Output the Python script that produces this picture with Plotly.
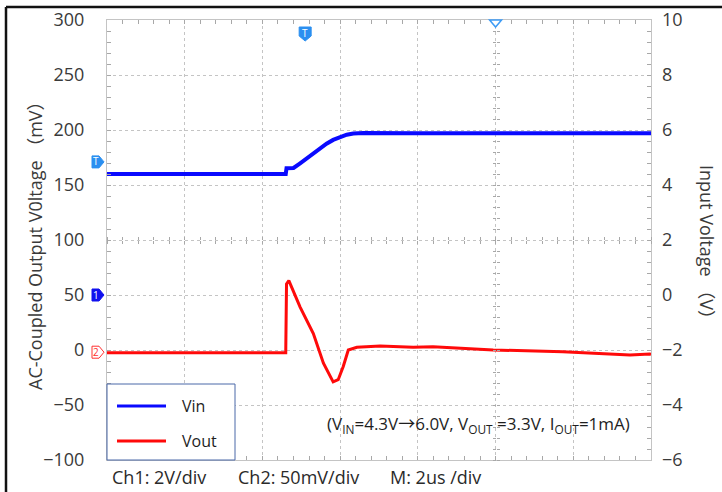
import plotly.graph_objects as go

# ---------------- data ----------------
# time in microseconds (2 us/div, 7 divisions shown)
t_vin = [0.0, 2.0, 4.60, 4.62, 4.80, 4.97, 5.14, 5.31, 5.48, 5.65, 5.82, 6.00, 6.17, 6.34, 6.60, 8.0, 10.0, 12.0, 14.0]
vin = [4.40, 4.40, 4.40, 4.61, 4.62, 4.79, 4.97, 5.15, 5.33, 5.50, 5.64, 5.75, 5.83, 5.87, 5.89, 5.88, 5.87, 5.88, 5.88]

t_vout = [0.0, 2.0, 4.60, 4.62, 4.68, 4.97, 5.31, 5.57, 5.82, 5.95, 6.08, 6.21, 6.43, 7.03, 7.88, 8.39, 9.94, 11.73, 13.46, 13.97, 14.0]
vout = [-2.4, -2.4, -2.4, 60, 63, 39, 15, -12, -29, -27, -15, 0, 2.4, 3.6, 2.4, 3.0, 0.0, -1.5, -4.5, -3.6, -3.8]

series_names = ["Vin", "Vout"]
series_colors = ["#0a0aff", "#ff0a0a"]

left_ticks = [-100, -50, 0, 50, 100, 150, 200, 250, 300]
right_ticks = [-6, -4, -2, 0, 2, 4, 6, 8, 10]

ch1_ground_v = 0.0      # Ch1 ground marker (V)
ch2_ground_mv = -2.0    # Ch2 ground marker (mV)
trig_level_v = 4.84     # trigger level (V)
trig_time_us = 5.1      # trigger position (us)
center_time_us = 10.0   # hollow top marker (us)

# ---------------- layout geometry ----------------
W, H = 722, 492
L, R, T, B = 107, 651, 20, 460
PW, PH = R - L, B - T


def px(x):
    return (x - L) / PW


def py(y):
    return (B - y) / PH


FONT = "Open Sans, Noto Sans CJK SC, sans-serif"
GRID = "#c4c4c4"
TICKC = "#a8a8a8"

fig = go.Figure()
fig.add_trace(go.Scatter(x=t_vin, y=vin, yaxis="y2", mode="lines", name=series_names[0],
                         line=dict(color=series_colors[0], width=4), showlegend=False))
fig.add_trace(go.Scatter(x=t_vout, y=vout, mode="lines", name=series_names[1],
                         line=dict(color=series_colors[1], width=3), showlegend=False))
# helper (empty) traces so the crosshair tick axes are drawn
fig.add_trace(go.Scatter(x=[], y=[], xaxis="x3", yaxis="y3", showlegend=False, hoverinfo="skip"))
fig.add_trace(go.Scatter(x=[], y=[], xaxis="x4", yaxis="y4", showlegend=False, hoverinfo="skip"))

axis_common = dict(showline=True, linecolor=GRID, linewidth=1, mirror="allticks",
                   ticks="inside", ticklen=4, tickcolor=TICKC, zeroline=False,
                   showgrid=True, gridcolor=GRID, griddash="dot", gridwidth=1, automargin=False)
free_common = dict(showline=False, showgrid=False, zeroline=False, showticklabels=False,
                   tickvals=[], automargin=False)

fig.update_layout(
    width=W, height=H,
    margin=dict(l=L, r=W - R, t=T, b=H - B, pad=0, autoexpand=False),
    paper_bgcolor="white", plot_bgcolor="white",
    font=dict(family=FONT, color="#3a3a3a"),
    xaxis=dict(range=[0, 14], tick0=0, dtick=2, showticklabels=False,
               minor=dict(dtick=0.4, ticks="inside", ticklen=4, tickcolor=TICKC, showgrid=False),
               **axis_common),
    yaxis=dict(range=[-100, 300], tickvals=left_ticks, tickfont=dict(size=18, color="#3a3a3a"),
               ticklabelstandoff=18,
               minor=dict(dtick=10, ticks="inside", ticklen=4, tickcolor=TICKC, showgrid=False),
               **axis_common),
    yaxis2=dict(range=[-6, 10], tickvals=right_ticks, overlaying="y", side="right",
                showgrid=False, zeroline=False, ticks="", showline=False, automargin=False,
                tickfont=dict(size=18, color="#3a3a3a"), ticklabelstandoff=10),
    # crosshair ticks (horizontal centre line and vertical line at 10 us)
    xaxis3=dict(range=[0, 14], overlaying="x", anchor="free", position=0.5,
                minor=dict(dtick=0.4, ticks="outside", ticklen=3, tickcolor=TICKC, showgrid=False),
                **free_common),
    xaxis4=dict(range=[0, 14], overlaying="x", anchor="free", position=0.5,
                minor=dict(dtick=0.4, ticks="inside", ticklen=3, tickcolor=TICKC, showgrid=False),
                **free_common),
    yaxis3=dict(range=[-100, 300], overlaying="y", anchor="free", position=center_time_us / 14,
                minor=dict(dtick=10, ticks="outside", ticklen=3, tickcolor=TICKC, showgrid=False),
                **free_common),
    yaxis4=dict(range=[-100, 300], overlaying="y", anchor="free", position=center_time_us / 14,
                minor=dict(dtick=10, ticks="inside", ticklen=3, tickcolor=TICKC, showgrid=False),
                **free_common),
)

shapes = []
# outer black frame (top and left edges)
shapes.append(dict(type="line", xref="paper", yref="paper", x0=px(6), x1=px(W + 5), y0=py(7), y1=py(7),
                   line=dict(color="#111111", width=2.5)))
shapes.append(dict(type="line", xref="paper", yref="paper", x0=px(6), x1=px(6), y0=py(7), y1=py(H + 5),
                   line=dict(color="#111111", width=2.5)))

# legend box
shapes.append(dict(type="rect", xref="paper", yref="paper", x0=px(107), x1=px(235), y0=py(460), y1=py(384),
                   line=dict(color="#4a68a8", width=1), fillcolor="white", layer="above"))
for name, col, yy in zip(series_names, series_colors, [406, 441]):
    shapes.append(dict(type="line", xref="paper", yref="paper", x0=px(117), x1=px(166), y0=py(yy), y1=py(yy),
                       line=dict(color=col, width=3), layer="above"))

# scope markers
trig_blue = "#2b8ff0"
pent_right = "M-15,6 L-8,6 L-3,0 L-8,-6 L-15,-6 Z"
shapes.append(dict(type="path", xref="paper", yref="y2", xsizemode="pixel", ysizemode="pixel",
                   xanchor=0, yanchor=trig_level_v, path=pent_right,
                   fillcolor=trig_blue, line=dict(color=trig_blue, width=1), layer="above"))
shapes.append(dict(type="path", xref="paper", yref="y2", xsizemode="pixel", ysizemode="pixel",
                   xanchor=0, yanchor=ch1_ground_v, path=pent_right,
                   fillcolor="#1010ee", line=dict(color="#1010ee", width=1), layer="above"))
shapes.append(dict(type="path", xref="paper", yref="y", xsizemode="pixel", ysizemode="pixel",
                   xanchor=0, yanchor=ch2_ground_mv, path=pent_right,
                   fillcolor="white", line=dict(color="#ff3030", width=1), layer="above"))
shapes.append(dict(type="path", xref="x", yref="paper", xsizemode="pixel", ysizemode="pixel",
                   xanchor=trig_time_us, yanchor=1,
                   path="M-6,-7 L6,-7 L6,-16 L0,-21 L-6,-16 Z",
                   fillcolor=trig_blue, line=dict(color=trig_blue, width=1), layer="above"))
shapes.append(dict(type="path", xref="x", yref="paper", xsizemode="pixel", ysizemode="pixel",
                   xanchor=center_time_us, yanchor=1,
                   path="M-6,0 L6,0 L0,-7 Z",
                   fillcolor="white", line=dict(color="#3d9bf5", width=1.5), layer="above"))

annotations = []


def ann(text, x, y, size, xanchor="center", yanchor="middle", color="#1e1e1e", angle=0, **kw):
    annotations.append(dict(text=text, x=x, y=y, xref="paper", yref="paper", showarrow=False,
                            xanchor=xanchor, yanchor=yanchor, textangle=angle,
                            font=dict(size=size, color=color, family=FONT), **kw))


# axis titles
ann("AC-Coupled Output V0ltage （mV）", px(35), py(241), 18, color="#3a3a3a", angle=-90)
ann("Input Voltage （V）", px(707), py(246), 18, color="#3a3a3a", angle=90)
# legend text
ann(series_names[0], px(180), py(406), 16, xanchor="left")
ann(series_names[1], px(180), py(441), 16, xanchor="left")
# bottom scope settings
ann("Ch1: 2V/div", px(110), py(477), 18, xanchor="left", color="#2a2a2a")
ann("Ch2: 50mV/div", px(236), py(477), 18, xanchor="left", color="#2a2a2a")
ann("M: 2us /div", px(388), py(477), 18, xanchor="left", color="#2a2a2a")
# test condition
ann("(V<sub>IN</sub>=4.3V→6.0V, V<sub>OUT</sub> =3.3V, I<sub>OUT</sub>=1mA)", px(478), py(424), 17)
# marker labels
ann("T", px(L - 11), py(161), 10, color="white")
ann("1", px(L - 11), py(295), 10, color="white")
ann("2", px(L - 11), py(352), 10, color="#ff3030")
ann("T", px(305), py(33), 10, color="white")

fig.update_layout(shapes=shapes, annotations=annotations)

fig.write_html("out.html", config={"displayModeBar": False},
               post_script="document.body.style.margin='0';document.body.style.overflow='hidden';")
